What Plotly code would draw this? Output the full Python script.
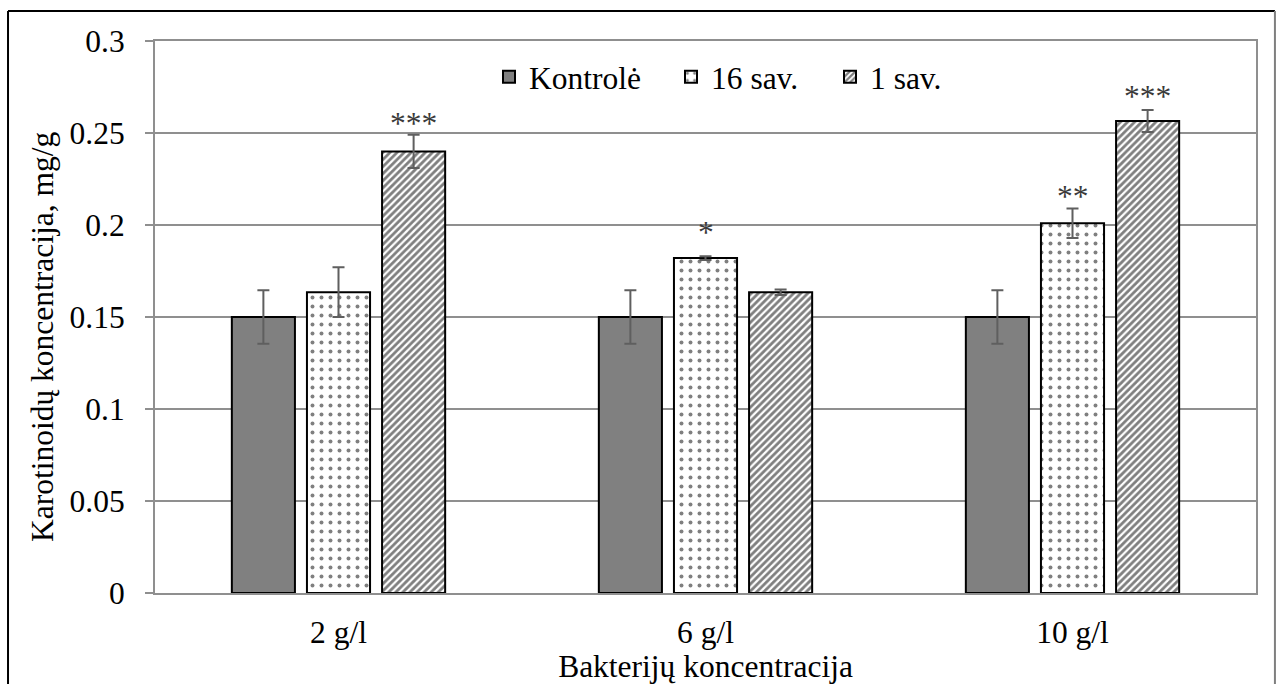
import plotly.graph_objects as go

# Bacterial concentration groups
categories = ["2 g/l", "6 g/l", "10 g/l"]

# Carotenoid concentration (mg/g) and standard errors for each series
series_names = ["Kontrolė", "16 sav.", "1 sav."]
kontrole = [0.150, 0.150, 0.150]
kontrole_err = [0.0145, 0.0145, 0.0145]
sav16 = [0.1635, 0.182, 0.201]
sav16_err = [0.0135, 0.001, 0.008]
sav1 = [0.240, 0.1635, 0.2565]
sav1_err = [0.009, 0.0015, 0.006]

# Significance marks placed above the error bars
signif_16 = ["", "*", "**"]
signif_1 = ["***", "", "***"]

FONT = "Liberation Serif"
FS = 31.5
GRID = "#8f8f8f"
ERR = "#5f5f5f"
BARGAP = 0.386
PLOT_W, PLOT_H, LEFT, BOTTOM = 1101, 552, 155, 593

fig = go.Figure()

styles = [
    dict(color="#808080", pattern=dict(shape="")),
    dict(color="white", pattern=dict(shape=".", fgcolor="black", bgcolor="white", size=9, solidity=0.15)),
    dict(color="white", pattern=dict(shape="/", fgcolor="black", bgcolor="white", size=5, solidity=0.55)),
]
values = [kontrole, sav16, sav1]
errors = [kontrole_err, sav16_err, sav1_err]
legend_ids = ["legend", "legend2", "legend3"]
# symbol centres of the legend entries, in plot-area fractions
legend_x = [(509 - LEFT) / PLOT_W, (691 - LEFT) / PLOT_W, (850 - LEFT) / PLOT_W]

for name, vals, errs, st, lid in zip(series_names, values, errors, styles, legend_ids):
    fig.add_trace(go.Bar(
        name=name,
        x=categories,
        y=vals,
        legend=lid,
        error_y=dict(type="data", array=errs, visible=True, color=ERR, thickness=2, width=6),
        marker=dict(color=st["color"], pattern=st["pattern"], line=dict(color="black", width=2)),
    ))

# Asterisk annotations, offset to the centre of the relevant bar
slot = (1 - BARGAP) / 3
for marks, vals, errs, k, shifts in [(signif_16, sav16, sav16_err, 0, [0, 4, -8]),
                                     (signif_1, sav1, sav1_err, 1, [-8, 0, -6])]:
    for i, m in enumerate(marks):
        if not m:
            continue
        fig.add_annotation(
            x=i + k * slot, y=vals[i] + errs[i], xref="x", yref="y",
            text=m, showarrow=False, yanchor="bottom", yshift=shifts[i],
            font=dict(family=FONT, size=FS, color="#3a3a3a"),
        )

# Vertical axis title, centred on the chart area
fig.add_annotation(
    x=(43 - LEFT) / PLOT_W, y=(BOTTOM - 337) / PLOT_H, xref="paper", yref="paper",
    text="Karotinoidų koncentracija, mg/g", textangle=-90, showarrow=False,
    xanchor="center", yanchor="middle", font=dict(family=FONT, size=FS, color="black"),
)

# Outer chart frame
fig.add_shape(type="line", xref="paper", yref="paper", x0=-0.1335, x1=1.0172, y0=1.0543, y1=1.0543,
              line=dict(color="black", width=2))
fig.add_shape(type="line", xref="paper", yref="paper", x0=-0.1335, x1=-0.1335, y0=1.0543, y1=-0.2,
              line=dict(color="black", width=2))
fig.add_shape(type="line", xref="paper", yref="paper", x0=1.0172, x1=1.0172, y0=1.0543, y1=-0.2,
              line=dict(color="#7f7f7f", width=2))

legend_style = dict(orientation="h", yanchor="middle", y=0.935, xanchor="left",
                    font=dict(family=FONT, size=FS, color="black"), bgcolor="rgba(0,0,0,0)",
                    borderwidth=0)

fig.update_layout(
    width=1282, height=684,
    margin=dict(l=LEFT, r=26, t=41, b=91, autoexpand=False),
    paper_bgcolor="white", plot_bgcolor="white",
    barmode="group", bargap=BARGAP, bargroupgap=0.16,
    font=dict(family=FONT, size=FS, color="black"),
    showlegend=True,
    legend=dict(legend_style, x=legend_x[0] - 20 / PLOT_W),
    legend2=dict(legend_style, x=legend_x[1] - 20 / PLOT_W),
    legend3=dict(legend_style, x=legend_x[2] - 20 / PLOT_W),
)
fig.update_xaxes(
    automargin=False,
    showgrid=False, showline=True, linecolor=GRID, linewidth=2, mirror=True,
    ticks="", ticklabelstandoff=10, tickfont=dict(family=FONT, size=FS, color="black"),
    title=dict(text="Bakterijų koncentracija", font=dict(family=FONT, size=FS, color="black"), standoff=4),
)
fig.update_yaxes(
    automargin=False,
    range=[0, 0.3], dtick=0.05, tick0=0,
    showgrid=True, gridcolor=GRID, gridwidth=2,
    showline=True, linecolor=GRID, linewidth=2, mirror=True,
    ticks="outside", ticklen=8, tickcolor=GRID, tickwidth=2, ticklabelstandoff=14,
    tickfont=dict(family=FONT, size=FS, color="black"), zeroline=False,
)

fig.write_html("out.html")
